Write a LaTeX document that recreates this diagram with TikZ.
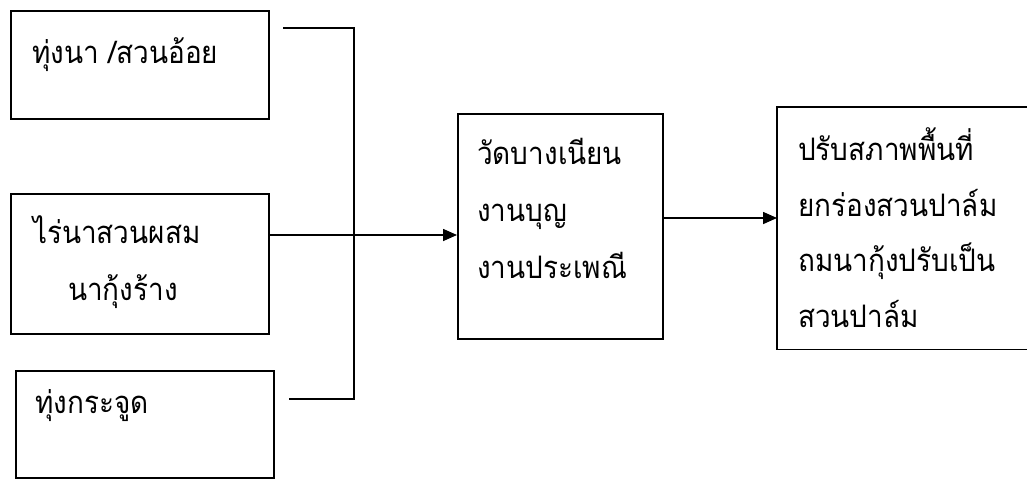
\documentclass[tikz,border=0pt]{standalone}
\usepackage{fontspec}
\newfontfamily\thaifont[Script=Thai,FakeStretch=0.9]{Loma}
\usetikzlibrary{arrows.meta}
\begin{document}
\begin{tikzpicture}[x=1pt,y=-1pt,
  box/.style={draw,line width=1.6pt,rectangle,anchor=north west,inner sep=0pt},
  openbox/.style={rectangle,anchor=north west,inner sep=0pt},
  lbl/.style={anchor=base west,inner sep=0pt,align=left,font=\thaifont\fontsize{31}{57}\selectfont},
  conn/.style={line width=1.6pt},
  arr/.style={line width=1.6pt,-{Triangle[length=14pt,width=12pt]}}]
\useasboundingbox (0,0) rectangle (1027,479);
% boxes
\node[box,minimum width=258pt,minimum height=108pt] (b1) at (10,10) {};
\node[box,minimum width=258pt,minimum height=140pt] (b2) at (10,193) {};
\node[box,minimum width=258pt,minimum height=107pt] (b3) at (15,370) {};
\node[box,minimum width=205pt,minimum height=225pt] (b4) at (457,113) {};
\node[openbox,minimum width=300pt,minimum height=242pt] (b5) at (777,107) {};
\draw[conn] (b5.north east) -- (b5.north west) -- (b5.south west) -- (b5.south east);
% texts
\node[lbl] (t1) at (32,63) {ทุ่งนา /สวนอ้อย};
\node[lbl] (t2) at (33,300) {ไร่นาสวนผสม\\\hspace*{35pt}นากุ้งร้าง};
\node[lbl] (t3) at (35,413) {ทุ่งกระจูด};
\node[lbl] (t4) at (477,278) {วัดบางเนียน\\งานบุญ\\งานประเพณี};
\node[lbl,font=\thaifont\fontsize{31}{55.5}\selectfont] (t5) at (798,327) {ปรับสภาพพื้นที่\\ยกร่องสวนปาล์ม\\ถมนากุ้งปรับเป็น\\สวนปาล์ม};
% connectors
\coordinate (ta) at (283,28);
\coordinate (tb) at (354,28);
\coordinate (ba) at (289,399);
\coordinate (bb) at (354,399);
\coordinate (j) at (354,235);
\coordinate (k) at (700,218);
\draw[conn] (ta) -- (tb) -- (bb) -- (ba);
\draw[arr] (b2.east |- j) -- (b4.west |- j);
\draw[arr] (b4.east |- k) -- (b5.west |- k);
\end{tikzpicture}
\end{document}
